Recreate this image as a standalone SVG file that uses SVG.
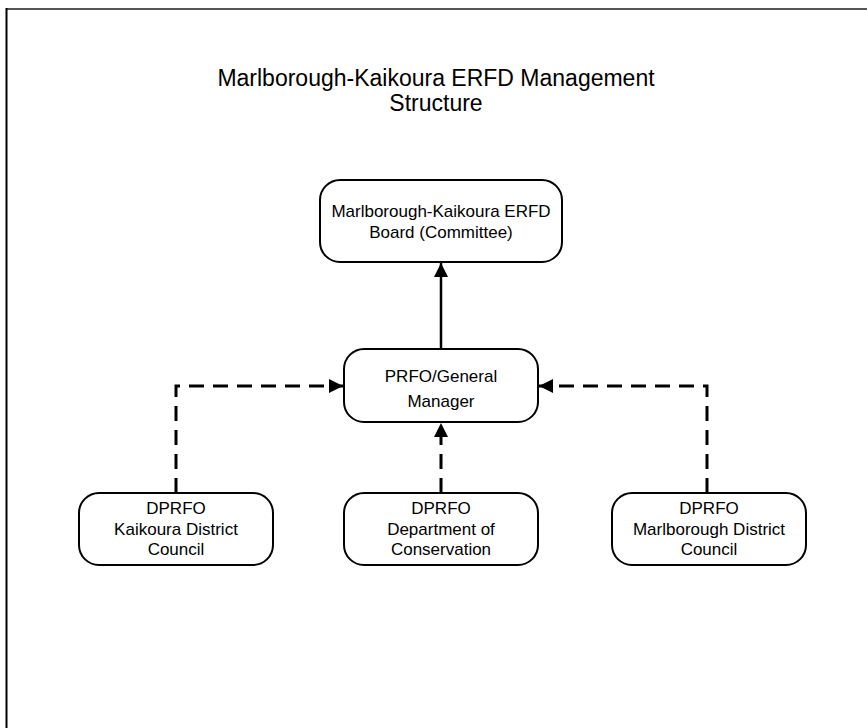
<svg xmlns="http://www.w3.org/2000/svg" width="867" height="728" viewBox="0 0 867 728">
<style>
text{font-family:"Liberation Sans",Arial,sans-serif;fill:#000;text-anchor:middle}
.t{font-size:23px}
.n{font-size:17px}
.box{fill:#fff;stroke:#000;stroke-width:2}
.solid{fill:none;stroke:#000;stroke-width:2.5}
.dash{fill:none;stroke:#000;stroke-width:3;stroke-dasharray:15 9}
</style>
<defs>
<marker id="ah" viewBox="0 0 14 14" refX="14" refY="7" markerWidth="14" markerHeight="14" markerUnits="userSpaceOnUse" orient="auto">
<path d="M0,0 L14,7 L0,14 Z" fill="#000"/>
</marker>
</defs>
<rect width="867" height="728" fill="#fff"/>
<line x1="6" y1="9" x2="867" y2="9" stroke="#555" stroke-width="2"/>
<line x1="6.5" y1="8" x2="6.5" y2="728" stroke="#000" stroke-width="2"/>
<g id="title">
<text class="t" x="436" y="86">Marlborough-Kaikoura ERFD Management</text>
<text class="t" x="436" y="111">Structure</text>
</g>
<g id="connectors">
<line class="solid" x1="441" y1="349" x2="441" y2="263" marker-end="url(#ah)"/>
<path class="dash" d="M176,493 V386 H343" marker-end="url(#ah)"/>
<path class="dash" d="M707,493 V386 H539" marker-end="url(#ah)"/>
<line class="dash" x1="441" y1="493" x2="441" y2="423" marker-end="url(#ah)"/>
</g>
<g id="board">
<rect class="box" x="320" y="180" width="242" height="82" rx="20"/>
<text class="n" x="441" y="217">Marlborough-Kaikoura ERFD</text>
<text class="n" x="441" y="237.5">Board (Committee)</text>
</g>
<g id="gm">
<rect class="box" x="344" y="349" width="194" height="73" rx="20"/>
<text class="n" x="441" y="381.5">PRFO/General</text>
<text class="n" x="441" y="407">Manager</text>
</g>
<g id="kaikoura">
<rect class="box" x="79" y="493" width="194" height="72" rx="20"/>
<text class="n" x="176" y="514">DPRFO</text>
<text class="n" x="176" y="534.5">Kaikoura District</text>
<text class="n" x="176" y="555">Council</text>
</g>
<g id="doc">
<rect class="box" x="344" y="493" width="194" height="72" rx="20"/>
<text class="n" x="441" y="514">DPRFO</text>
<text class="n" x="441" y="534.5">Department of</text>
<text class="n" x="441" y="555">Conservation</text>
</g>
<g id="marlborough">
<rect class="box" x="612" y="493" width="194" height="72" rx="20"/>
<text class="n" x="709" y="514">DPRFO</text>
<text class="n" x="709" y="534.5">Marlborough District</text>
<text class="n" x="709" y="555">Council</text>
</g>
</svg>
